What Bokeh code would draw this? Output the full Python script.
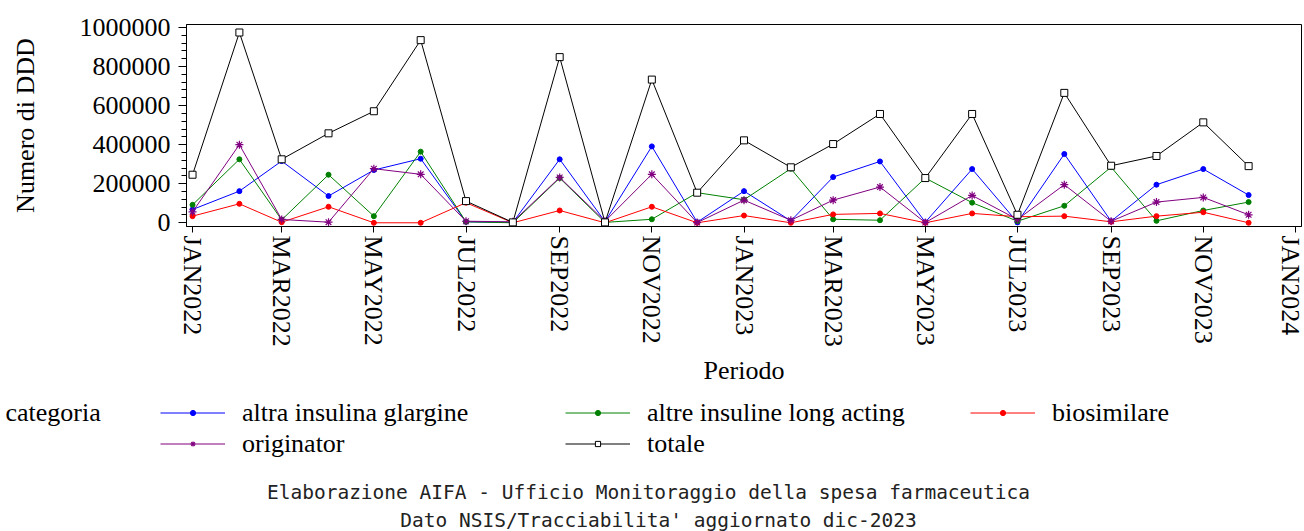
import datetime as dt
from bokeh.plotting import figure
from bokeh.layouts import column
from bokeh.models import (Range1d, FixedTicker, BasicTickFormatter, Legend,
                          LegendItem, Label)
from bokeh.embed import file_html
from bokeh.resources import INLINE

# ---------------- data (DDD, monthly) ----------------
months = ["2022-01", "2022-02", "2022-03", "2022-04", "2022-05", "2022-06",
          "2022-07", "2022-08", "2022-09", "2022-10", "2022-11", "2022-12",
          "2023-01", "2023-02", "2023-03", "2023-04", "2023-05", "2023-06",
          "2023-07", "2023-08", "2023-09", "2023-10", "2023-11", "2023-12"]

altra_insulina_glargine = [68000, 162000, 316000, 137000, 270000, 328000,
                           5000, 2000, 325000, 6000, 391000, 3000,
                           162000, 10000, 234000, 314000, 3000, 275000,
                           2000, 352000, 8000, 195000, 275000, 142000]
altre_insuline_long_acting = [92000, 325000, 15000, 246000, 34000, 364000,
                              5000, 0, 229000, 2000, 18000, 154000,
                              118000, 277000, 18000, 13000, 229000, 103000,
                              8000, 87000, 285000, 10000, 63000, 106000]
biosimilare = [34000, 97000, 3000, 82000, 0, 0,
               103000, 0, 63000, 0, 82000, 0,
               37000, 0, 43000, 48000, 0, 48000,
               31000, 34000, 5000, 34000, 54000, 0]
originator = [56000, 400000, 17000, 3000, 277000, 248000,
              8000, 5000, 232000, 8000, 248000, 1000,
              116000, 13000, 116000, 183000, 1000, 140000,
              17000, 195000, 8000, 106000, 130000, 41000]
totale = [246000, 974000, 325000, 458000, 571000, 935000,
          111000, 2000, 848000, 2000, 733000, 154000,
          422000, 284000, 403000, 557000, 229000, 557000,
          41000, 665000, 292000, 342000, 514000, 290000]

tick_months = ["2022-01", "2022-03", "2022-05", "2022-07", "2022-09", "2022-11",
               "2023-01", "2023-03", "2023-05", "2023-07", "2023-09", "2023-11",
               "2024-01"]
tick_labels = ["JAN2022", "MAR2022", "MAY2022", "JUL2022", "SEP2022", "NOV2022",
               "JAN2023", "MAR2023", "MAY2023", "JUL2023", "SEP2023", "NOV2023",
               "JAN2024"]
y_ticks = [0, 200000, 400000, 600000, 800000, 1000000]

legend_title = "categoria"
footnote1 = "Elaborazione AIFA - Ufficio Monitoraggio della spesa farmaceutica"
footnote2 = "Dato NSIS/Tracciabilita' aggiornato dic-2023"

# ---------------- helpers ----------------
EPOCH = dt.datetime(1970, 1, 1)


def to_dt(s):
    return dt.datetime.strptime(s, "%Y-%m")


def to_ms(d):
    return (d - EPOCH).total_seconds() * 1000.0


dates = [to_dt(m) for m in months]
tick_ms = [to_ms(to_dt(m)) for m in tick_months]

SERIF = "Liberation Serif"
FS = "26px"
W = 1304
H1 = 390
H2 = 531 - H1

# ---------------- main chart ----------------
p = figure(width=W, height=H1, x_axis_type="datetime",
           output_backend="svg", toolbar_location=None,
           x_range=Range1d(dt.datetime(2021, 12, 28), dt.datetime(2024, 1, 5)),
           y_range=Range1d(-19000, 1015000),
           min_border_left=186, min_border_right=3, min_border_top=24,
           min_border_bottom=164)
p.background_fill_color = "white"
p.border_fill_color = "white"
p.outline_line_color = "black"
p.outline_line_width = 1
p.xgrid.visible = False
p.ygrid.visible = False

xa = p.xaxis[0]
xa.ticker = FixedTicker(ticks=tick_ms)
xa.major_label_overrides = {t: l for t, l in zip(tick_ms, tick_labels)}
xa.major_label_orientation = "vertical"
xa.major_label_text_font = SERIF
xa.major_label_text_font_size = FS
xa.major_label_text_color = "black"
xa.major_tick_in = 0
xa.major_tick_out = 6
xa.minor_tick_in = 0
xa.minor_tick_out = 0
xa.major_label_standoff = 3
xa.axis_line_color = "black"
xa.axis_label = "Periodo"
xa.axis_label_text_font = SERIF
xa.axis_label_text_font_size = FS
xa.axis_label_text_font_style = "normal"
xa.axis_label_text_color = "black"
xa.axis_label_standoff = 6

ya = p.yaxis[0]
ya.ticker = FixedTicker(ticks=y_ticks,
                        minor_ticks=list(range(0, 1000001, 40000)))
ya.formatter = BasicTickFormatter(use_scientific=False)
ya.major_label_text_font = SERIF
ya.major_label_text_font_size = FS
ya.major_label_text_color = "black"
ya.major_tick_in = 0
ya.major_tick_out = 8
ya.minor_tick_in = 0
ya.minor_tick_out = 5
ya.major_label_standoff = 8
ya.axis_line_color = "black"
ya.axis_label = "Numero di DDD"
ya.axis_label_text_font = SERIF
ya.axis_label_text_font_size = FS
ya.axis_label_text_font_style = "normal"
ya.axis_label_text_color = "black"
ya.axis_label_standoff = 37

# ---------------- footer (legend + notes) ----------------
f = figure(width=W, height=H2, output_backend="svg", toolbar_location=None,
           x_axis_location=None, y_axis_location=None,
           x_range=Range1d(0, 1), y_range=Range1d(0, 1),
           min_border=0)
f.min_border_left = 0
f.min_border_right = 0
f.min_border_top = 0
f.min_border_bottom = 0
f.outline_line_color = None
f.xgrid.visible = False
f.ygrid.visible = False
f.background_fill_color = "white"
f.border_fill_color = "white"

# do not align the footer's frame with the chart's frame
if "frame_align" in f.properties():
    f.frame_align = False
    p.frame_align = False

series = [
    ("altra insulina glargine", altra_insulina_glargine, "#0000FF", "circle"),
    ("altre insuline long acting", altre_insuline_long_acting, "#008000", "circle"),
    ("biosimilare", biosimilare, "#FF0000", "circle"),
    ("originator", originator, "#800080", "asterisk"),
    ("totale", totale, "#000000", "square"),
]


def draw(fig, vals, col, marker):
    ln = fig.line(dates, vals, line_color=col, line_width=1)
    if marker == "circle":
        sc = fig.scatter(dates, vals, marker="circle", size=5,
                         fill_color=col, line_color=col)
    elif marker == "asterisk":
        sc = fig.scatter(dates, vals, marker="asterisk", size=8,
                         line_color=col, line_width=1.2)
    else:
        sc = fig.scatter(dates, vals, marker="square", size=7,
                         fill_color="white", line_color=col, line_width=1)
    return ln, sc


items = []
for name, vals, col, marker in series:
    draw(p, vals, col, marker)
    # same series in the footer figure (outside its range) for the legend
    ln2, sc2 = draw(f, vals, col, marker)
    items.append(LegendItem(label=name, renderers=[ln2, sc2]))

legend = Legend(items=items, orientation="horizontal", ncols=3,
                location=(160, 72),
                glyph_width=65, glyph_height=13, label_height=31,
                label_standoff=17,
                label_width=323, spacing=0, padding=0, margin=0,
                label_text_font=SERIF, label_text_font_size=FS,
                label_text_color="black", label_text_baseline="middle",
                border_line_color=None, background_fill_alpha=0)
f.add_layout(legend, "center")

f.add_layout(Label(x=5, y=119, x_units="screen", y_units="screen",
                   text=legend_title, text_font=SERIF, text_font_size=FS,
                   text_color="black", text_baseline="middle",
                   text_align="left"))
f.add_layout(Label(x=648, y=39, x_units="screen", y_units="screen",
                   text=footnote1, text_font="DejaVu Sans Mono",
                   text_font_size="19.5px", text_color="#222222",
                   text_baseline="alphabetic", text_align="center"))
f.add_layout(Label(x=658, y=11, x_units="screen", y_units="screen",
                   text=footnote2, text_font="DejaVu Sans Mono",
                   text_font_size="19.5px", text_color="#222222",
                   text_baseline="alphabetic", text_align="center"))

layout = column(p, f, spacing=0)
open("out.html", "w").write(file_html(layout, INLINE))
